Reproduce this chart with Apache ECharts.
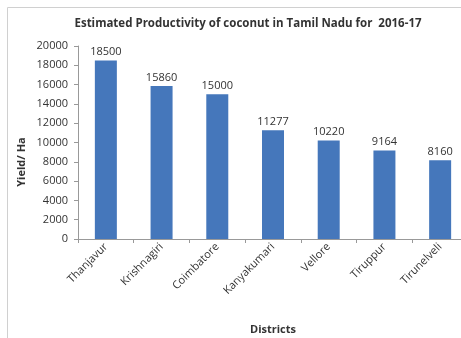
<!DOCTYPE html>
<html>
<head>
<meta charset="utf-8">
<script src="https://cdn.jsdelivr.net/npm/echarts@6/dist/echarts.min.js"></script>
<style>
html,body{margin:0;padding:0;background:#fff;}
#chart{width:461px;height:338px;}
</style>
</head>
<body>
<div id="chart"></div>
<script>
// Coconut yield per hectare by district, 2016-17
const districts = ['Thanjavur', 'Krishnagiri', 'Coimbatore', 'Kanyakumari', 'Vellore', 'Tiruppur', 'Tirunelveli'];
const yieldPerHa = [18500, 15860, 15000, 11277, 10220, 9164, 8160];
const yTicks = [0, 2000, 4000, 6000, 8000, 10000, 12000, 14000, 16000, 18000, 20000];

const chart = echarts.init(document.getElementById('chart'));
const font = 'Open Sans, sans-serif';
chart.setOption({
  animation: false,
  title: {
    text: 'Estimated Productivity of coconut in Tamil Nadu for  2016-17',
    left: 243, top: 13, textAlign: 'center',
    textStyle: { fontSize: 11.5, fontWeight: 'bold', color: '#333', fontFamily: font }
  },
  graphic: [{
    type: 'rect', shape: { x: 7.5, y: 7.5, width: 470, height: 340 },
    style: { fill: 'none', stroke: '#d0d0d0', lineWidth: 1 }, z: -1
  }, {
    type: 'text', x: 22, y: 162, rotation: Math.PI / 2,
    style: {
      text: 'Yield/ Ha', fill: '#333', font: 'bold 11px Open Sans, sans-serif',
      textAlign: 'center', textVerticalAlign: 'middle'
    }
  }],
  grid: { left: 78, top: 46, width: 390, height: 193, containLabel: false, outerBoundsMode: 'none' },
  xAxis: {
    type: 'category', data: districts,
    name: 'Districts', nameLocation: 'middle', nameGap: 85,
    nameTextStyle: { fontSize: 11, fontWeight: 'bold', color: '#333', fontFamily: font },
    axisLine: { lineStyle: { color: '#999' } },
    axisTick: { show: true, length: 4, lineStyle: { color: '#999' } },
    axisLabel: { rotate: 45, fontSize: 11, color: '#333', fontFamily: font, margin: 6 }
  },
  yAxis: {
    type: 'value', min: yTicks[0], max: yTicks[yTicks.length - 1], interval: 2000,
    axisLine: { show: true, lineStyle: { color: '#999' } },
    axisTick: { show: true, length: 4, lineStyle: { color: '#999' } },
    splitLine: { show: false },
    axisLabel: { fontSize: 11, color: '#333', fontFamily: font, margin: 10, formatter: v => String(v) }
  },
  series: [{
    type: 'bar', data: yieldPerHa, barWidth: 22,
    itemStyle: { color: '#4577bb' },
    label: { show: true, position: 'top', distance: 3, fontSize: 11, color: '#333', fontFamily: font }
  }]
});
</script>
</body>
</html>
